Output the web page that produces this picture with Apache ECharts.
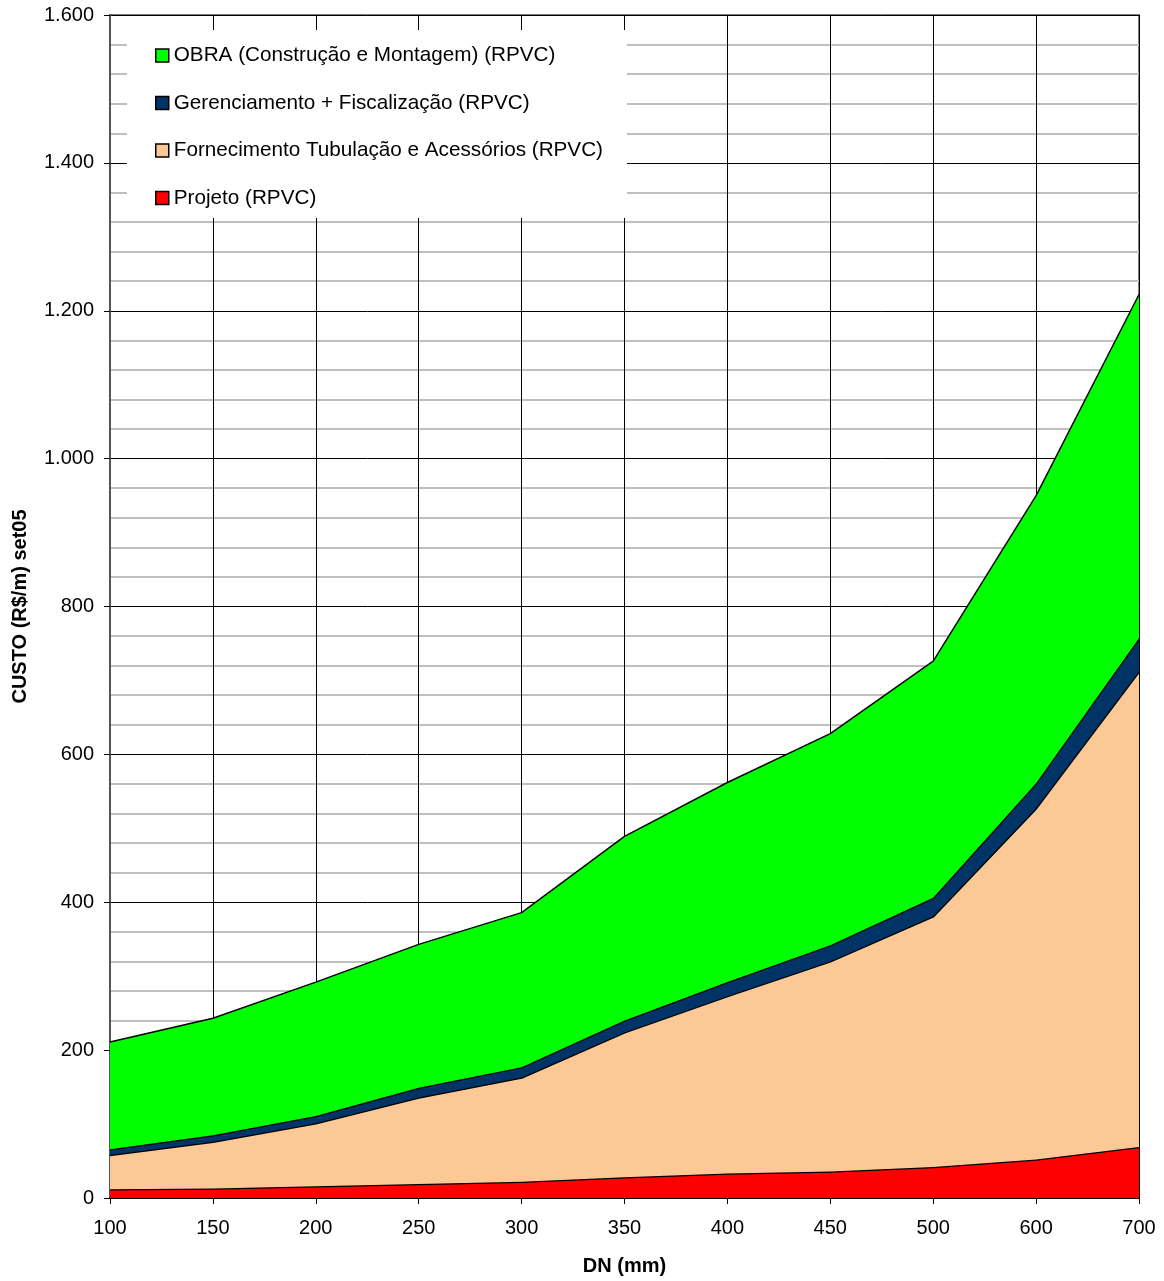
<!DOCTYPE html>
<html><head><meta charset="utf-8">
<script src="https://cdn.jsdelivr.net/npm/echarts@6/dist/echarts.min.js"></script>
<style>html,body{margin:0;padding:0;background:#fff}#c{width:1164px;height:1281px}</style>
</head><body><div id="c"></div>
<script>
const categories = ['100','150','200','250','300','350','400','450','500','600','700'];
const projeto = [12,13,16,19,22,28,33,36,42,52,69];
const fornecimento = [46,63,85,117,141,196,240,284,339,475,643];
const gerenciamento = [8,9,10,13,14,16,19,22,25,34,45];
const obra = [145,158,181,194,209,249,270,286,320,389,465];
const seriesNames = ['Projeto (RPVC)','Fornecimento Tubulação e Acessórios (RPVC)','Gerenciamento + Fiscalização (RPVC)','OBRA (Construção e Montagem) (RPVC)'];
const colors = ['#ff0000','#fcc996','#003366','#00ff00'];
const yTicks = {min:0, max:1600, interval:200};

const font = 'Liberation Sans, Arial, sans-serif';
const chart = echarts.init(document.getElementById('c'));
const data = [projeto, fornecimento, gerenciamento, obra];
chart.setOption({
  animation:false,
  textStyle:{fontFamily:font},
  grid:{left:110,right:25,top:15,bottom:82,show:true,borderColor:'#808080',borderWidth:2,backgroundColor:'transparent'},
  graphic:[{type:'rect',shape:{x:127,y:30,width:500,height:188},style:{fill:'#fff'},z:1}],
  legend:{
    orient:'vertical',left:150,top:40,
    data:[seriesNames[3],seriesNames[2],seriesNames[1],seriesNames[0]],
    icon:'rect',itemWidth:13,itemHeight:13,itemGap:26.5,
    itemStyle:{borderColor:'#000',borderWidth:1.5},
    textStyle:{fontSize:20.7,color:'#000',fontFamily:font,padding:[0,0,0,0]},
    z:5
  },
  xAxis:{
    type:'category',data:categories,boundaryGap:false,
    name:'DN (mm)',nameLocation:'middle',nameGap:58,
    nameTextStyle:{fontSize:20,fontWeight:'bold',color:'#000',fontFamily:font},
    axisLine:{lineStyle:{color:'#000',width:1.5}},
    axisTick:{show:true,length:6,lineStyle:{color:'#000'}},
    axisLabel:{fontSize:20,color:'#000',margin:20,fontFamily:font},
    splitLine:{show:true,lineStyle:{color:'#000',width:1}}
  },
  yAxis:{
    type:'value',min:yTicks.min,max:yTicks.max,interval:yTicks.interval,
    name:'CUSTO (R$/m) set05',nameLocation:'middle',nameGap:80,
    nameTextStyle:{fontSize:20,fontWeight:'bold',color:'#000',fontFamily:font},
    axisLine:{show:true,lineStyle:{color:'#555',width:2}},
    axisTick:{show:true,length:6,lineStyle:{color:'#000'}},
    axisLabel:{fontSize:20,color:'#000',margin:16,fontFamily:font,
      formatter:v=>v>=1000?String(v).replace(/(\d)(\d{3})$/,'$1.$2'):String(v)},
    splitLine:{show:true,lineStyle:{color:'#000',width:1}},
    minorTick:{show:false,splitNumber:5},
    minorSplitLine:{show:true,lineStyle:{color:'#c0c0c0',width:2}}
  },
  series:data.map((d,i)=>({
    name:seriesNames[i],type:'line',stack:'total',data:d,
    symbol:'none',
    lineStyle:{color:'#000',width:i===3?1.5:2.5},
    itemStyle:{color:colors[i]},
    areaStyle:{color:colors[i],opacity:1},
    z:2+i
  }))
});
</script></body></html>
